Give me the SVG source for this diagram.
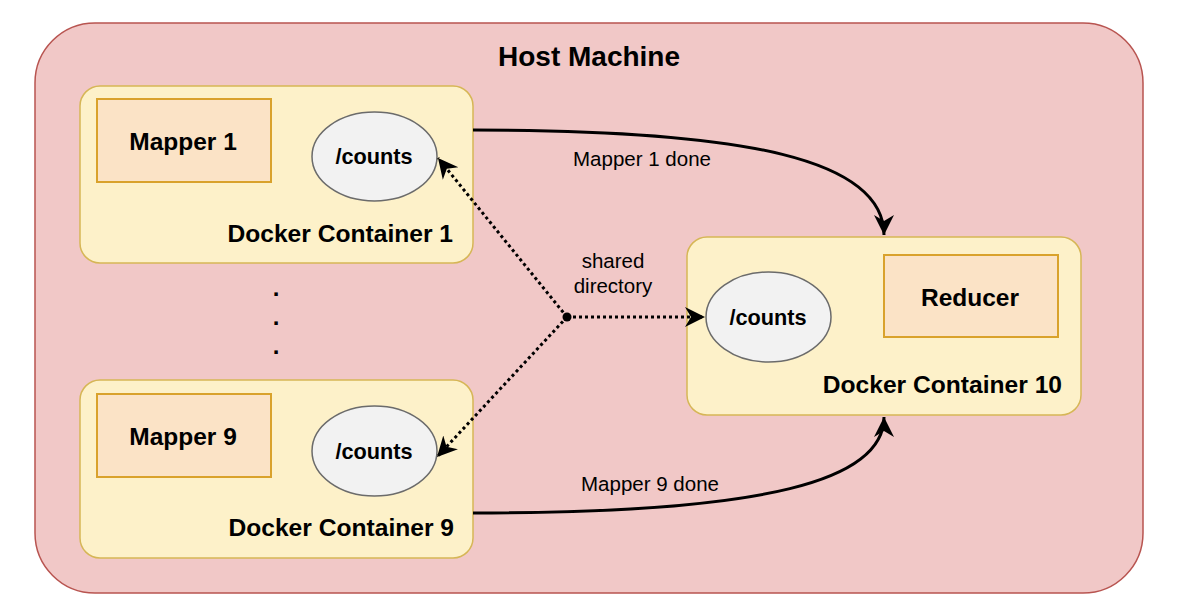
<svg xmlns="http://www.w3.org/2000/svg" width="1198" height="616" viewBox="0 0 1198 616">
<style>
.host{fill:#f1c8c7;stroke:#b85450;stroke-width:1.5}
.cont{fill:#fdf1c9;stroke:#d6b656;stroke-width:1.5}
.proc{fill:#fbe3c6;stroke:#d9a22c;stroke-width:2}
.dir{fill:#f2f2f2;stroke:#6b6b6b;stroke-width:1.5}
text{font-family:"Liberation Sans",Arial,Helvetica,sans-serif;fill:#000}
.b{font-weight:bold}
.solid{fill:none;stroke:#000;stroke-width:3}
.dot{fill:none;stroke:#000;stroke-width:3;stroke-dasharray:3 3}
</style>
<defs>
<marker id="arr" markerUnits="userSpaceOnUse" markerWidth="24" markerHeight="24" refX="20" refY="11" orient="auto">
<path d="M0,1 L20,11 L0,21 L6,11 Z" fill="#000"/>
</marker>
</defs>
<g id="host">
<rect class="host" x="35" y="23" width="1108" height="570" rx="60" ry="60"/>
<text class="b" x="589" y="66" font-size="28" text-anchor="middle">Host Machine</text>
</g>
<g id="container1">
<rect class="cont" x="80" y="86" width="393" height="177" rx="20" ry="20"/>
<text class="b" x="453" y="242" font-size="24.6" text-anchor="end">Docker Container 1</text>
</g>
<g id="mapper1">
<rect class="proc" x="97" y="99" width="174" height="83"/>
<text class="b" x="183" y="150" font-size="24.5" text-anchor="middle">Mapper 1</text>
</g>
<g id="counts1">
<ellipse class="dir" cx="374.5" cy="156.5" rx="62.5" ry="44.5"/>
<text class="b" x="374" y="164" font-size="21.7" text-anchor="middle">/counts</text>
</g>
<g id="container9">
<rect class="cont" x="80" y="380" width="393" height="178" rx="20" ry="20"/>
<text class="b" x="454" y="536" font-size="24.6" text-anchor="end">Docker Container 9</text>
</g>
<g id="mapper9">
<rect class="proc" x="97" y="394" width="174" height="83"/>
<text class="b" x="183" y="445" font-size="24.5" text-anchor="middle">Mapper 9</text>
</g>
<g id="counts9">
<ellipse class="dir" cx="374.5" cy="451" rx="62.5" ry="45"/>
<text class="b" x="374" y="459" font-size="21.7" text-anchor="middle">/counts</text>
</g>
<g id="container10">
<rect class="cont" x="687" y="237" width="394" height="178" rx="20" ry="20"/>
<text class="b" x="1062" y="393" font-size="24.6" text-anchor="end">Docker Container 10</text>
</g>
<g id="reducer">
<rect class="proc" x="884" y="255" width="174" height="82"/>
<text class="b" x="970" y="306" font-size="24.5" text-anchor="middle">Reducer</text>
</g>
<g id="counts10">
<ellipse class="dir" cx="768.5" cy="317" rx="62.5" ry="45"/>
<text class="b" x="768" y="325" font-size="21.7" text-anchor="middle">/counts</text>
</g>
<g id="ellipsis">
<text class="b" x="276" y="296" font-size="24" text-anchor="middle">.</text>
<text class="b" x="276" y="325" font-size="24" text-anchor="middle">.</text>
<text class="b" x="276" y="354" font-size="24" text-anchor="middle">.</text>
</g>
<g id="connectors">
<path class="solid" d="M473,130 C750,130 884,160 884,235" marker-end="url(#arr)"/>
<text x="642" y="166" font-size="20.5" text-anchor="middle">Mapper 1 done</text>
<path class="solid" d="M473,513 C770,513 884,480 884,417" marker-end="url(#arr)"/>
<text x="650" y="491" font-size="20.5" text-anchor="middle">Mapper 9 done</text>
<circle cx="567" cy="317" r="4.5" fill="#000"/>
<path class="dot" d="M567,317 L438,158" marker-end="url(#arr)"/>
<path class="dot" d="M567,317 L437,457" marker-end="url(#arr)"/>
<path class="dot" d="M567,317 L705,317" marker-end="url(#arr)"/>
<text x="613" y="268" font-size="20.5" text-anchor="middle">shared</text>
<text x="613" y="293" font-size="20.5" text-anchor="middle">directory</text>
</g>
</svg>
